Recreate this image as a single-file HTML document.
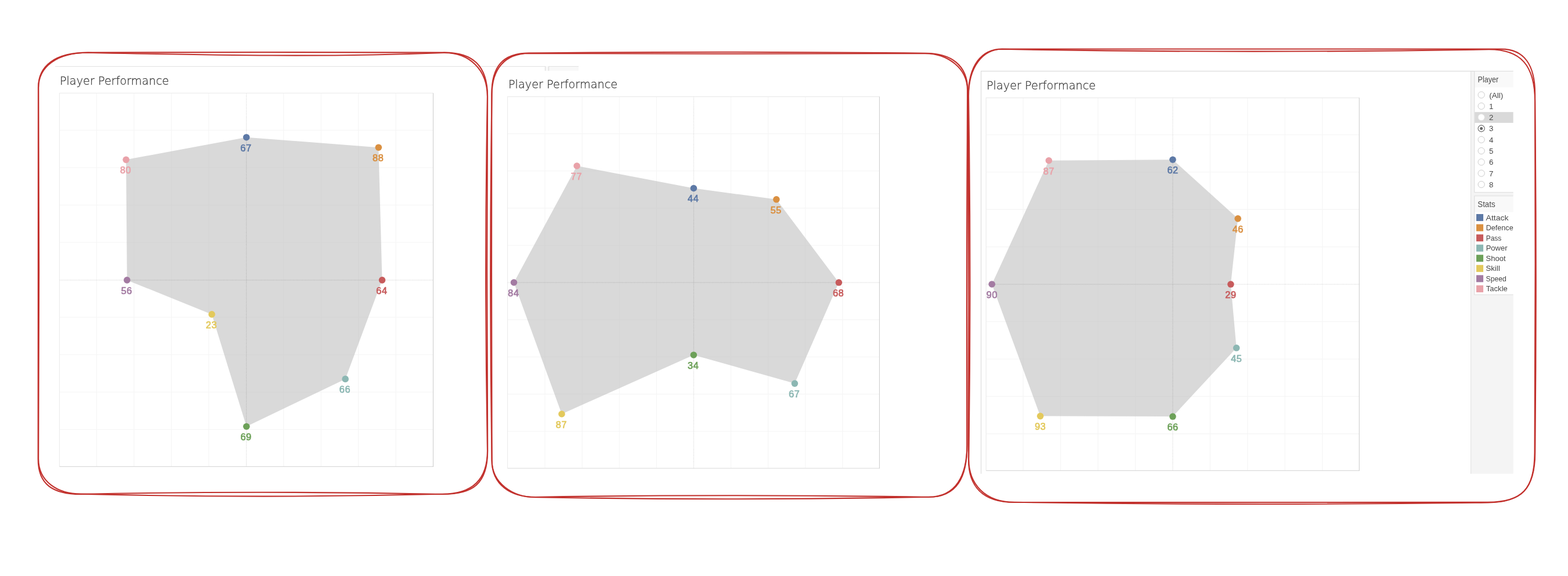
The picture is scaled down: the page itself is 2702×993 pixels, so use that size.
<!DOCTYPE html>
<html lang="en"><head><meta charset="utf-8"><title>Player Performance</title>
<style>
html,body{margin:0;padding:0;background:#fff;}
body{width:2702px;height:993px;}
svg{display:block;}
.t{font-family:"DejaVu Sans Light","DejaVu Sans","Liberation Sans",sans-serif;font-weight:200;font-size:20.1px;fill:#3a3a3a;stroke:#3a3a3a;stroke-width:0.3px;}
.l{font-family:"Liberation Sans",sans-serif;font-size:15.6px;text-anchor:middle;letter-spacing:0.6px;stroke-width:0.7px;stroke-linejoin:round;}
.s{font-family:"Liberation Sans",sans-serif;font-size:13.2px;fill:#484848;}
.h{font-family:"Liberation Sans",sans-serif;font-size:14.4px;fill:#4c4c4c;}
.g{stroke:#f5f5f5;stroke-width:1.1;}
.z{stroke:#000;stroke-opacity:0.15;stroke-width:1.2;stroke-dasharray:1.3 1.33;}
.b{fill:none;stroke:#d4d4d4;stroke-width:1.15;}
.r{fill:none;stroke:#c2312d;stroke-width:2.1;stroke-linecap:round;stroke-linejoin:round;}
</style></head><body>
<svg width="2702" height="993" viewBox="0 0 2702 993">
<g id="remnants">
<rect x="940" y="114" width="57" height="8" fill="#f8f8f8"/>
<rect x="95" y="114" width="845" height="1" fill="#e2e2e2"/>
<rect x="939" y="114" width="1" height="8" fill="#dadada"/>
<rect x="945" y="114" width="1" height="8" fill="#dadada"/>
<rect x="945" y="114" width="52" height="1" fill="#e2e2e2"/>
</g>
<g id="frame3">
<rect x="2534.5" y="122.2" width="73.3" height="694.5" fill="#f4f4f4"/>
<path class="b" style="stroke:#dcdcdc" d="M1690.57,816.7 V122.64 H2607.8"/>
<path class="b" style="stroke:#e2e2e2" d="M2534.6,123 V816.7"/>
</g>
<g id="chart1">
<text class="t" x="102.9" y="146.25" textLength="188.2" lengthAdjust="spacingAndGlyphs">Player Performance</text>
<rect x="102.5" y="160.5" width="644" height="643.9" fill="#fff"/>
<line class="g" x1="166.5" y1="160.5" x2="166.5" y2="804.4"/>
<line class="g" x1="230.95" y1="160.5" x2="230.95" y2="804.4"/>
<line class="g" x1="295.4" y1="160.5" x2="295.4" y2="804.4"/>
<line class="g" x1="359.85" y1="160.5" x2="359.85" y2="804.4"/>
<line class="g" x1="488.75" y1="160.5" x2="488.75" y2="804.4"/>
<line class="g" x1="553.2" y1="160.5" x2="553.2" y2="804.4"/>
<line class="g" x1="617.65" y1="160.5" x2="617.65" y2="804.4"/>
<line class="g" x1="682.1" y1="160.5" x2="682.1" y2="804.4"/>
<line class="g" x1="102.5" y1="224.55" x2="746.5" y2="224.55"/>
<line class="g" x1="102.5" y1="289.05" x2="746.5" y2="289.05"/>
<line class="g" x1="102.5" y1="353.55" x2="746.5" y2="353.55"/>
<line class="g" x1="102.5" y1="418.05" x2="746.5" y2="418.05"/>
<line class="g" x1="102.5" y1="547.05" x2="746.5" y2="547.05"/>
<line class="g" x1="102.5" y1="611.55" x2="746.5" y2="611.55"/>
<line class="g" x1="102.5" y1="676.05" x2="746.5" y2="676.05"/>
<line class="g" x1="102.5" y1="740.55" x2="746.5" y2="740.55"/>
<polygon points="424.6,236.7 652.3,254.2 658.5,482.85 595.1,653.4 424.7,735.25 365,541.9 218.9,482.9 217.2,275.35" fill="#bfbfbf" fill-opacity="0.6"/>
<line class="z" x1="424.55" y1="160.5" x2="424.55" y2="804.4"/>
<line class="z" x1="102.5" y1="482.8" x2="746.5" y2="482.8"/>
<path class="b" style="stroke:#ebebeb" d="M102.5,804.4 V160.5 H746.5"/>
<path class="b" style="stroke:#dadada" d="M102.5,804.4 H746.5"/>
<path class="b" style="stroke:#d0d0d0" d="M746.5,160.5 V804.9"/>
<circle cx="424.6" cy="236.7" r="5.8" fill="#5d79a6"/>
<text class="l" x="424" y="260.65" textLength="19.28" lengthAdjust="spacingAndGlyphs" fill="#5d79a6" stroke="#5d79a6">67</text>
<circle cx="652.3" cy="254.2" r="5.8" fill="#da9041"/>
<text class="l" x="651.7" y="278.15" textLength="19.28" lengthAdjust="spacingAndGlyphs" fill="#da9041" stroke="#da9041">88</text>
<circle cx="658.5" cy="482.85" r="5.8" fill="#c75b5c"/>
<text class="l" x="657.9" y="506.8" textLength="19.28" lengthAdjust="spacingAndGlyphs" fill="#c75b5c" stroke="#c75b5c">64</text>
<circle cx="595.1" cy="653.4" r="5.8" fill="#8cb7b3"/>
<text class="l" x="594.5" y="677.35" textLength="19.28" lengthAdjust="spacingAndGlyphs" fill="#8cb7b3" stroke="#8cb7b3">66</text>
<circle cx="424.7" cy="735.25" r="5.8" fill="#6da159"/>
<text class="l" x="424.1" y="759.2" textLength="19.28" lengthAdjust="spacingAndGlyphs" fill="#6da159" stroke="#6da159">69</text>
<circle cx="365" cy="541.9" r="5.8" fill="#e3c95c"/>
<text class="l" x="364.4" y="565.85" textLength="19.28" lengthAdjust="spacingAndGlyphs" fill="#e3c95c" stroke="#e3c95c">23</text>
<circle cx="218.9" cy="482.9" r="5.8" fill="#a37ba2"/>
<text class="l" x="218.3" y="506.85" textLength="19.28" lengthAdjust="spacingAndGlyphs" fill="#a37ba2" stroke="#a37ba2">56</text>
<circle cx="217.2" cy="275.35" r="5.8" fill="#e9a2a9"/>
<text class="l" x="216.6" y="299.3" textLength="19.28" lengthAdjust="spacingAndGlyphs" fill="#e9a2a9" stroke="#e9a2a9">80</text>
</g>
<g id="chart2">
<text class="t" x="876" y="152.4" textLength="188.2" lengthAdjust="spacingAndGlyphs">Player Performance</text>
<rect x="874.55" y="166.55" width="640.95" height="640.65" fill="#fff"/>
<line class="g" x1="939.05" y1="166.55" x2="939.05" y2="807.2"/>
<line class="g" x1="1003.15" y1="166.55" x2="1003.15" y2="807.2"/>
<line class="g" x1="1067.25" y1="166.55" x2="1067.25" y2="807.2"/>
<line class="g" x1="1131.35" y1="166.55" x2="1131.35" y2="807.2"/>
<line class="g" x1="1259.55" y1="166.55" x2="1259.55" y2="807.2"/>
<line class="g" x1="1323.65" y1="166.55" x2="1323.65" y2="807.2"/>
<line class="g" x1="1387.75" y1="166.55" x2="1387.75" y2="807.2"/>
<line class="g" x1="1451.85" y1="166.55" x2="1451.85" y2="807.2"/>
<line class="g" x1="874.55" y1="230.65" x2="1515.5" y2="230.65"/>
<line class="g" x1="874.55" y1="294.75" x2="1515.5" y2="294.75"/>
<line class="g" x1="874.55" y1="358.85" x2="1515.5" y2="358.85"/>
<line class="g" x1="874.55" y1="422.95" x2="1515.5" y2="422.95"/>
<line class="g" x1="874.55" y1="551.15" x2="1515.5" y2="551.15"/>
<line class="g" x1="874.55" y1="615.25" x2="1515.5" y2="615.25"/>
<line class="g" x1="874.55" y1="679.35" x2="1515.5" y2="679.35"/>
<line class="g" x1="874.55" y1="743.45" x2="1515.5" y2="743.45"/>
<polygon points="1195.35,324.5 1337.9,343.8 1445.45,487.05 1369.45,661.1 1195.3,611.95 968,713.75 885.55,487 994.1,286" fill="#bfbfbf" fill-opacity="0.6"/>
<line class="z" x1="1195.45" y1="166.55" x2="1195.45" y2="807.2"/>
<line class="z" x1="874.55" y1="487.05" x2="1515.5" y2="487.05"/>
<path class="b" style="stroke:#ebebeb" d="M874.55,807.2 V166.55 H1515.5"/>
<path class="b" style="stroke:#dadada" d="M874.55,807.2 H1515.5"/>
<path class="b" style="stroke:#d0d0d0" d="M1515.5,166.55 V807.7"/>
<circle cx="1195.35" cy="324.5" r="5.8" fill="#5d79a6"/>
<text class="l" x="1194.78" y="348.45" textLength="19.28" lengthAdjust="spacingAndGlyphs" fill="#5d79a6" stroke="#5d79a6">44</text>
<circle cx="1337.9" cy="343.8" r="5.8" fill="#da9041"/>
<text class="l" x="1337.33" y="367.75" textLength="19.28" lengthAdjust="spacingAndGlyphs" fill="#da9041" stroke="#da9041">55</text>
<circle cx="1445.45" cy="487.05" r="5.8" fill="#c75b5c"/>
<text class="l" x="1444.88" y="511" textLength="19.28" lengthAdjust="spacingAndGlyphs" fill="#c75b5c" stroke="#c75b5c">68</text>
<circle cx="1369.45" cy="661.1" r="5.8" fill="#8cb7b3"/>
<text class="l" x="1368.88" y="685.05" textLength="19.28" lengthAdjust="spacingAndGlyphs" fill="#8cb7b3" stroke="#8cb7b3">67</text>
<circle cx="1195.3" cy="611.95" r="5.8" fill="#6da159"/>
<text class="l" x="1194.73" y="635.9" textLength="19.28" lengthAdjust="spacingAndGlyphs" fill="#6da159" stroke="#6da159">34</text>
<circle cx="968" cy="713.75" r="5.8" fill="#e3c95c"/>
<text class="l" x="967.43" y="737.7" textLength="19.28" lengthAdjust="spacingAndGlyphs" fill="#e3c95c" stroke="#e3c95c">87</text>
<circle cx="885.55" cy="487" r="5.8" fill="#a37ba2"/>
<text class="l" x="884.98" y="510.95" textLength="19.28" lengthAdjust="spacingAndGlyphs" fill="#a37ba2" stroke="#a37ba2">84</text>
<circle cx="994.1" cy="286" r="5.8" fill="#e9a2a9"/>
<text class="l" x="993.53" y="309.95" textLength="19.28" lengthAdjust="spacingAndGlyphs" fill="#e9a2a9" stroke="#e9a2a9">77</text>
</g>
<g id="chart3">
<text class="t" x="1700" y="154.4" textLength="188.2" lengthAdjust="spacingAndGlyphs">Player Performance</text>
<rect x="1699.2" y="168.55" width="643.1" height="642.75" fill="#fff"/>
<line class="g" x1="1763.1" y1="168.55" x2="1763.1" y2="811.3"/>
<line class="g" x1="1827.55" y1="168.55" x2="1827.55" y2="811.3"/>
<line class="g" x1="1892" y1="168.55" x2="1892" y2="811.3"/>
<line class="g" x1="1956.45" y1="168.55" x2="1956.45" y2="811.3"/>
<line class="g" x1="2085.35" y1="168.55" x2="2085.35" y2="811.3"/>
<line class="g" x1="2149.8" y1="168.55" x2="2149.8" y2="811.3"/>
<line class="g" x1="2214.25" y1="168.55" x2="2214.25" y2="811.3"/>
<line class="g" x1="2278.7" y1="168.55" x2="2278.7" y2="811.3"/>
<line class="g" x1="1699.2" y1="232.25" x2="2342.3" y2="232.25"/>
<line class="g" x1="1699.2" y1="296.7" x2="2342.3" y2="296.7"/>
<line class="g" x1="1699.2" y1="361.15" x2="2342.3" y2="361.15"/>
<line class="g" x1="1699.2" y1="425.6" x2="2342.3" y2="425.6"/>
<line class="g" x1="1699.2" y1="554.5" x2="2342.3" y2="554.5"/>
<line class="g" x1="1699.2" y1="618.95" x2="2342.3" y2="618.95"/>
<line class="g" x1="1699.2" y1="683.4" x2="2342.3" y2="683.4"/>
<line class="g" x1="1699.2" y1="747.85" x2="2342.3" y2="747.85"/>
<polygon points="2020.9,275.25 2133.15,376.85 2120.85,490.05 2130.65,599.8 2020.9,718.05 1792.65,717.35 1709.25,489.95 1807.35,276.75" fill="#bfbfbf" fill-opacity="0.6"/>
<line class="z" x1="2020.9" y1="168.55" x2="2020.9" y2="811.3"/>
<line class="z" x1="1699.2" y1="490.05" x2="2342.3" y2="490.05"/>
<path class="b" style="stroke:#ebebeb" d="M1699.2,811.3 V168.55 H2342.3"/>
<path class="b" style="stroke:#dadada" d="M1699.2,811.3 H2342.3"/>
<path class="b" style="stroke:#d0d0d0" d="M2342.3,168.55 V811.8"/>
<circle cx="2020.9" cy="275.25" r="5.8" fill="#5d79a6"/>
<text class="l" x="2021.05" y="299.2" textLength="19.28" lengthAdjust="spacingAndGlyphs" fill="#5d79a6" stroke="#5d79a6">62</text>
<circle cx="2133.15" cy="376.85" r="5.8" fill="#da9041"/>
<text class="l" x="2133.3" y="400.8" textLength="19.28" lengthAdjust="spacingAndGlyphs" fill="#da9041" stroke="#da9041">46</text>
<circle cx="2120.85" cy="490.05" r="5.8" fill="#c75b5c"/>
<text class="l" x="2121" y="514" textLength="19.28" lengthAdjust="spacingAndGlyphs" fill="#c75b5c" stroke="#c75b5c">29</text>
<circle cx="2130.65" cy="599.8" r="5.8" fill="#8cb7b3"/>
<text class="l" x="2130.8" y="623.75" textLength="19.28" lengthAdjust="spacingAndGlyphs" fill="#8cb7b3" stroke="#8cb7b3">45</text>
<circle cx="2020.9" cy="718.05" r="5.8" fill="#6da159"/>
<text class="l" x="2021.05" y="742" textLength="19.28" lengthAdjust="spacingAndGlyphs" fill="#6da159" stroke="#6da159">66</text>
<circle cx="1792.65" cy="717.35" r="5.8" fill="#e3c95c"/>
<text class="l" x="1792.8" y="741.3" textLength="19.28" lengthAdjust="spacingAndGlyphs" fill="#e3c95c" stroke="#e3c95c">93</text>
<circle cx="1709.25" cy="489.95" r="5.8" fill="#a37ba2"/>
<text class="l" x="1709.4" y="513.9" textLength="19.28" lengthAdjust="spacingAndGlyphs" fill="#a37ba2" stroke="#a37ba2">90</text>
<circle cx="1807.35" cy="276.75" r="5.8" fill="#e9a2a9"/>
<text class="l" x="1807.5" y="300.7" textLength="19.28" lengthAdjust="spacingAndGlyphs" fill="#e9a2a9" stroke="#e9a2a9">87</text>
</g>
<g id="side">
<rect x="2540.7" y="122.7" width="67.1" height="208.75" fill="#fff"/>
<rect x="2540.7" y="122.7" width="67.1" height="28" fill="#f9f9f9"/>
<rect x="2541.2" y="193.2" width="66.6" height="18.6" fill="#d9d9d9"/>
<path class="b" style="stroke:#dedede" d="M2607.8,122.7 H2540.75 V331.45 H2607.8"/>
<text class="h" x="2546.5" y="142.15" textLength="35.8" lengthAdjust="spacingAndGlyphs">Player</text>
<circle cx="2552.65" cy="163.6" r="5.6" fill="#fff" stroke="#cbcbcb" stroke-width="1"/>
<text class="s" x="2566.3" y="168.55" textLength="24" lengthAdjust="spacingAndGlyphs">(All)</text>
<circle cx="2552.65" cy="182.9" r="5.6" fill="#fff" stroke="#cbcbcb" stroke-width="1"/>
<text class="s" x="2566.1" y="187.85">1</text>
<circle cx="2552.65" cy="202.2" r="5.6" fill="#fff" stroke="#e6e6e6" stroke-width="1"/>
<text class="s" x="2566.1" y="207.15">2</text>
<circle cx="2552.65" cy="221.5" r="5.6" fill="#fff" stroke="#666" stroke-width="1.1"/>
<circle cx="2552.65" cy="221.5" r="2.5" fill="#666"/>
<text class="s" x="2566.1" y="226.45">3</text>
<circle cx="2552.65" cy="240.8" r="5.6" fill="#fff" stroke="#cbcbcb" stroke-width="1"/>
<text class="s" x="2566.1" y="245.75">4</text>
<circle cx="2552.65" cy="260.1" r="5.6" fill="#fff" stroke="#cbcbcb" stroke-width="1"/>
<text class="s" x="2566.1" y="265.05">5</text>
<circle cx="2552.65" cy="279.4" r="5.6" fill="#fff" stroke="#cbcbcb" stroke-width="1"/>
<text class="s" x="2566.1" y="284.35">6</text>
<circle cx="2552.65" cy="298.7" r="5.6" fill="#fff" stroke="#cbcbcb" stroke-width="1"/>
<text class="s" x="2566.1" y="303.65">7</text>
<circle cx="2552.65" cy="318" r="5.6" fill="#fff" stroke="#cbcbcb" stroke-width="1"/>
<text class="s" x="2566.1" y="322.95">8</text>
<rect x="2540.7" y="337.7" width="67.1" height="170.3" fill="#fff"/>
<rect x="2540.7" y="337.7" width="67.1" height="28" fill="#f9f9f9"/>
<path class="b" style="stroke:#dedede" d="M2607.8,337.7 H2540.75 V508 H2607.8"/>
<text class="h" x="2546.3" y="356.95" textLength="30.3" lengthAdjust="spacingAndGlyphs">Stats</text>
<rect x="2544" y="369.03" width="12.05" height="12.05" fill="#5d79a6"/>
<text class="s" x="2560.6" y="379.55" textLength="39" lengthAdjust="spacingAndGlyphs">Attack</text>
<rect x="2544" y="386.58" width="12.05" height="12.05" fill="#da9041"/>
<text class="s" x="2560.7" y="397.1" textLength="47" lengthAdjust="spacingAndGlyphs">Defence</text>
<rect x="2544" y="404.13" width="12.05" height="12.05" fill="#c75b5c"/>
<text class="s" x="2560.7" y="414.65" textLength="26.6" lengthAdjust="spacingAndGlyphs">Pass</text>
<rect x="2544" y="421.68" width="12.05" height="12.05" fill="#8cb7b3"/>
<text class="s" x="2560.7" y="432.2" textLength="36.8" lengthAdjust="spacingAndGlyphs">Power</text>
<rect x="2544" y="439.23" width="12.05" height="12.05" fill="#6da159"/>
<text class="s" x="2560.5" y="449.75" textLength="34.2" lengthAdjust="spacingAndGlyphs">Shoot</text>
<rect x="2544" y="456.78" width="12.05" height="12.05" fill="#e3c95c"/>
<text class="s" x="2560.5" y="467.3" textLength="24.4" lengthAdjust="spacingAndGlyphs">Skill</text>
<rect x="2544" y="474.33" width="12.05" height="12.05" fill="#a37ba2"/>
<text class="s" x="2560.5" y="484.85" textLength="35.4" lengthAdjust="spacingAndGlyphs">Speed</text>
<rect x="2544" y="491.88" width="12.05" height="12.05" fill="#e9a2a9"/>
<text class="s" x="2560.8" y="502.4" textLength="37" lengthAdjust="spacingAndGlyphs">Tackle</text>
<rect x="2607.8" y="100" width="30" height="740" fill="#fff"/>
</g>
<g id="borders">
<path class="r" d="M151.69,90.6 C356.44,89.8 561.2,89.8 765.95,90.6 C814.15,90.6 840.1,112.6 840.1,166.46 C838.93,370.04 838.97,573.62 840.2,777.2 C840.2,834.05 815.28,852 762.34,852 C554.62,847.73 346.91,847.73 139.19,852 C90.69,852 65.7,835.04 65.7,791.44 C65.8,577.96 65.9,364.48 66,151 C66,113.55 94.28,90.6 151.69,90.6Z"/>
<path class="r" d="M151.99,90.8 C356.58,94.83 561.16,99.27 765.75,90.9 C808.02,90.9 839.9,118.97 839.9,166.76 C836.2,370.17 836.23,573.59 840,777 C840,830.11 811.19,851.8 762.14,851.8 C554.65,856.93 347.17,856.87 139.69,851.6 C97.8,851.6 66.2,829.19 66.2,791.04 C67.43,577.76 67.47,364.48 66.3,151.2 C66.3,115.56 97.15,90.8 151.99,90.8Z"/>
<path class="r" d="M911.42,91.6 C1139.04,89.13 1366.67,89.2 1594.29,91.8 C1638.89,91.8 1667.4,112.09 1667.4,155.2 C1665.83,359.23 1665.53,563.26 1666.5,767.29 C1666.5,822.91 1649.26,857 1600.19,857 C1374.37,853.27 1148.54,853.27 922.72,857 C879.9,857 847.6,836.05 847.6,793.53 C846.97,583.09 846.87,372.66 847.3,162.22 C847.3,114.9 865.89,91.6 911.42,91.6Z"/>
<path class="r" d="M911.72,91.9 C1139.14,93.03 1366.57,93.1 1593.99,92.1 C1632.74,92.1 1667.1,117.46 1667.1,155.5 C1666.07,359.36 1665.83,563.23 1666.4,767.09 C1666.4,820.02 1647.17,856.8 1600.09,856.8 C1374.3,861.2 1148.51,861.33 922.72,857.2 C883.66,857.2 847.6,833.08 847.6,793.73 C844.4,583.33 844.4,372.92 847.6,162.52 C847.6,119.44 870.04,91.9 911.72,91.9Z"/>
<path class="r" d="M1726.65,84.5 C2013.47,84.4 2300.28,84.43 2587.1,84.6 C2626.54,84.6 2645.1,112.25 2645.1,161.4 C2645.93,367.6 2645.77,573.79 2644.6,779.99 C2644.6,843.56 2622.72,865.9 2563.57,865.9 C2291.67,865.93 2019.77,865.97 1747.87,866 C1692.66,866 1669,837.99 1669,792.28 C1669.57,583.3 1669.47,374.32 1668.7,165.34 C1668.7,112.79 1691.3,84.5 1726.65,84.5Z"/>
<path class="r" d="M1726.95,84.8 C2006.58,89.77 2286.22,89.93 2565.86,85.3 C2619.74,85.3 2645.1,111.48 2645.1,175.58 C2647.27,377.22 2647.3,578.85 2645.2,780.49 C2645.2,842.35 2621.7,866.4 2564.17,866.4 C2292.17,870.07 2020.17,869.87 1748.17,865.8 C1696.9,865.8 1669.3,834.1 1669.3,792.08 C1672.27,583.27 1672.17,374.45 1669,165.64 C1669,115.52 1693.34,84.8 1726.95,84.8Z"/>
</g>
</svg>
</body></html>
